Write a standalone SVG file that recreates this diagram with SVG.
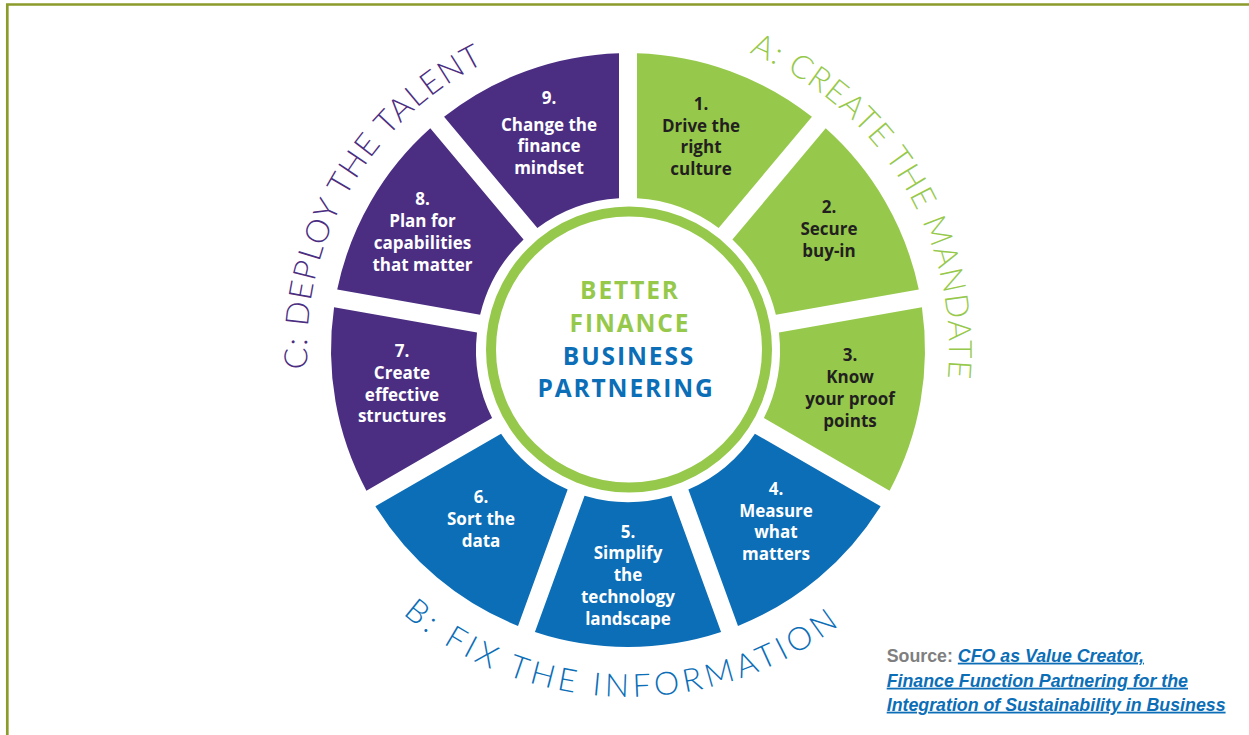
<svg xmlns="http://www.w3.org/2000/svg" width="1249" height="735" viewBox="0 0 1249 735">
<style>
.g{fill:#96C94B}.p{fill:#4B2E82}.b{fill:#0B6EB7}
.st{font-family:"Open Sans","Liberation Sans",sans-serif;font-weight:700;font-size:17px;text-anchor:middle}
.w{fill:#FFFFFF}.k{fill:#231F20}
.ct{font-family:"Open Sans","Liberation Sans",sans-serif;font-weight:700;font-size:24.5px;text-anchor:middle;letter-spacing:1.9px}
.arc{font-family:Lato,"Open Sans",sans-serif;font-weight:300;font-size:32px}
.src{font-family:"Liberation Sans",Arial,sans-serif;font-weight:700;font-size:17.8px}
</style>
<rect width="1249" height="735" fill="#FFFFFF"/>
<path d="M7.3,735 V4.5 H1249" fill="none" stroke="#8C9B2B" stroke-width="2.7"/>
<defs>
<path id="pa" d="M749.3,52.8 A321,321 0 0 1 929.6,459.8"/>
<path id="pc" d="M307.6,369.0 A321,321 0 0 1 544.9,39.9"/>
<path id="pb" d="M402.7,613.9 A347,347 0 0 0 893.8,573.0"/>
</defs>
<g id="seg1">
<path class="g" d="M637.0,53.14 A297,297 0 0 1 811.93,116.81 L718.64,227.98 A152,152 0 0 0 637.0,198.27 Z"/>
<text class="st k"><tspan x="701" y="110">1.</tspan><tspan x="701" y="131.7">Drive the</tspan><tspan x="701" y="153">right</tspan><tspan x="701" y="175">culture</tspan></text>
</g>
<g id="seg2">
<path class="g" d="M825.71,128.37 A297,297 0 0 1 918.79,289.59 L775.87,314.79 A152,152 0 0 0 732.43,239.55 Z"/>
<text class="st k"><tspan x="829" y="213">2.</tspan><tspan x="829" y="235">Secure</tspan><tspan x="829" y="257">buy-in</tspan></text>
</g>
<g id="seg3">
<path class="g" d="M921.92,307.31 A297,297 0 0 1 889.59,490.64 L763.91,418.07 A152,152 0 0 0 778.99,332.51 Z"/>
<text class="st k"><tspan x="850" y="361">3.</tspan><tspan x="850" y="383">Know</tspan><tspan x="850" y="405">your proof</tspan><tspan x="850" y="427">points</tspan></text>
</g>
<g id="seg4">
<path class="b" d="M880.59,506.22 A297,297 0 0 1 737.99,625.88 L688.35,489.51 A152,152 0 0 0 754.90,433.66 Z"/>
<text class="st w"><tspan x="776" y="495">4.</tspan><tspan x="776" y="517">Measure</tspan><tspan x="776" y="538">what</tspan><tspan x="776" y="559.5">matters</tspan></text>
</g>
<g id="seg5">
<path class="b" d="M721.08,632.04 A297,297 0 0 1 534.92,632.04 L584.56,495.66 A152,152 0 0 0 671.44,495.66 Z"/>
<text class="st w"><tspan x="628" y="537.5">5.</tspan><tspan x="628" y="559">Simplify</tspan><tspan x="628" y="581">the</tspan><tspan x="628" y="603">technology</tspan><tspan x="628" y="624.5">landscape</tspan></text>
</g>
<g id="seg6">
<path class="b" d="M518.01,625.88 A297,297 0 0 1 375.41,506.22 L501.10,433.66 A152,152 0 0 0 567.65,489.51 Z"/>
<text class="st w"><tspan x="481" y="503">6.</tspan><tspan x="481" y="525">Sort the</tspan><tspan x="481" y="547">data</tspan></text>
</g>
<g id="seg7">
<path class="p" d="M366.41,490.64 A297,297 0 0 1 334.08,307.31 L477.01,332.51 A152,152 0 0 0 492.09,418.07 Z"/>
<text class="st w"><tspan x="402" y="357">7.</tspan><tspan x="402" y="379">Create</tspan><tspan x="402" y="400.7">effective</tspan><tspan x="402" y="422">structures</tspan></text>
</g>
<g id="seg8">
<path class="p" d="M337.21,289.59 A297,297 0 0 1 430.29,128.37 L523.57,239.55 A152,152 0 0 0 480.13,314.79 Z"/>
<text class="st w"><tspan x="422.5" y="205">8.</tspan><tspan x="422.5" y="227">Plan for</tspan><tspan x="422.5" y="249">capabilities</tspan><tspan x="422.5" y="270.5">that matter</tspan></text>
</g>
<g id="seg9">
<path class="p" d="M444.07,116.81 A297,297 0 0 1 619.0,53.14 L619.0,198.27 A152,152 0 0 0 537.36,227.98 Z"/>
<text class="st w"><tspan x="549" y="104">9.</tspan><tspan x="549" y="131">Change the</tspan><tspan x="549" y="152">finance</tspan><tspan x="549" y="173.5">mindset</tspan></text>
</g>
<g id="center">
<circle cx="629" cy="349.5" r="138" fill="#FFFFFF" stroke="#96C94B" stroke-width="10"/>
<text class="ct"><tspan x="630" y="299" class="g">BETTER</tspan><tspan x="630" y="332" class="g">FINANCE</tspan><tspan x="629" y="365" class="b">BUSINESS</tspan><tspan x="626" y="397" class="b">PARTNERING</tspan></text>
</g>
<g id="labelA"><text class="arc" fill="#96C94B"><textPath href="#pa" textLength="408" lengthAdjust="spacing">A: CREATE THE MANDATE</textPath></text></g>
<g id="labelB"><text class="arc" fill="#0B6EB7"><textPath href="#pb" textLength="472" lengthAdjust="spacing">B: FIX THE INFORMATION</textPath></text></g>
<g id="labelC"><text class="arc" fill="#4B2E82"><textPath href="#pc" textLength="374" lengthAdjust="spacing">C: DEPLOY THE TALENT</textPath></text></g>
<g id="source">
<text class="src" x="886.7" y="661.7"><tspan fill="#7F7F7F">Source: </tspan><tspan fill="#0B6EB7" font-style="italic" text-decoration="underline">CFO as Value Creator,</tspan></text>
<text class="src" x="886.7" y="686.7" fill="#0B6EB7" font-style="italic" text-decoration="underline">Finance Function Partnering for the</text>
<text class="src" x="886.7" y="710.7" fill="#0B6EB7" font-style="italic" text-decoration="underline">Integration of Sustainability in Business</text>
</g>
</svg>
